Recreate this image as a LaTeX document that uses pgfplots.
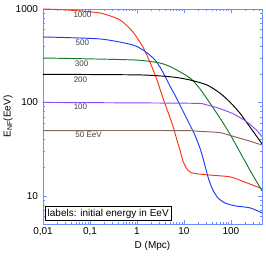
\documentclass[border=0pt]{standalone}
\usepackage{fontspec}
\setmainfont{Liberation Sans}
\usepackage{pgfplots}
\pgfplotsset{compat=1.18}
\definecolor{cred}{RGB}{250,55,20}
\definecolor{cblue}{RGB}{30,60,245}
\definecolor{cgreen}{RGB}{20,125,45}
\definecolor{cpurple}{RGB}{145,75,245}
\definecolor{cbrown}{RGB}{140,100,90}
\definecolor{axblue}{RGB}{110,140,255}
\begin{document}
\begin{tikzpicture}
\begin{axis}[
  scale only axis,
  width=219pt, height=215pt,
  xmode=log, ymode=log,
  xmin=0.01, xmax=460, ymin=5, ymax=1000,
  axis line style={axblue, line width=0.7pt},
  every tick/.style={axblue, line width=0.5pt},
  major tick length=4pt, minor tick length=2.2pt,
  tick align=inside,
  xtick={0.01,0.1,1,10,100},
  xticklabels={{0,01},{0,1},1,10,100},
  minor xtick={0.02,0.03,0.04,0.05,0.06,0.07,0.08,0.09,0.2,0.3,0.4,0.5,0.6,0.7,0.8,0.9,2,3,4,5,6,7,8,9,20,30,40,50,60,70,80,90,200,300,400},
  ytick={10,100,1000},
  yticklabels={10,100,1000},
  minor ytick={6,7,8,9,20,30,40,50,60,70,80,90,200,300,400,500,600,700,800,900},
  /pgf/number format/assume math mode=true,
  tick label style={font=\fontsize{10}{12}\selectfont, black},
  yticklabel style={xshift=-1.5pt},
  xlabel={D (Mpc)},
  ylabel={E$_{\mathrm{NF}}$(EeV)},
  label style={font=\fontsize{10}{12}\selectfont},
  xlabel style={at={(axis description cs:0.5,-0.102)}, anchor=center},
  ylabel style={at={(axis description cs:-0.160,0.5)}, anchor=center},
  every axis plot/.append style={line width=0.95pt, no markers, smooth, tension=0.4},
  clip=true,
]
% 1000 EeV
\addplot[cred] coordinates {
(0.01,1000) (0.0324,976) (0.163,906) (0.435,763) (0.822,568) (1.34,392)
(1.89,271) (2.67,174) (3.57,112) (4.57,79.1) (5.83,56.1) (7.10,39.7)
(8.22,31.1) (9.52,23.7) (11.6,19.4) (14.8,17.6) (30.8,16.8) (95.2,16.0)
(180,14.3) (414,12.2) (460,11.9)};
% 500 EeV
\addplot[cblue] coordinates {
(0.01,502) (0.163,478) (0.822,412) (1.55,347) (2.42,285) (3.08,240)
(3.94,192) (5.04,150) (6.44,120) (8.22,94.1) (10.5,73.5) (13.4,57.5)
(17.1,44.9) (21.9,32.6) (25.4,25.5) (29.4,19.4) (34.0,14.8) (41.4,11.6)
(52.9,9.52) (74.5,8.41) (122,7.82) (254,7.45) (460,6.58)};
% 300 EeV
\addplot[cgreen] coordinates {
(0.01,299) (0.822,285) (3.08,264) (5.83,234) (13.4,183) (21.9,140)
(35.7,98.8) (58.3,68.3) (95.2,46.0) (155,29.6) (254,18.9) (460,11.3)};
% 200 EeV
\addplot[black] coordinates {
(0.01,200) (1.16,197) (5.83,187) (13.4,174) (30.8,154) (58.3,126)
(95.2,101) (155,77.2) (254,54.7) (375,41.7) (460,36.0)};
% 100 EeV
\addplot[cpurple] coordinates {
(0.01,100) (13.4,98) (28,95) (50.4,88) (110,76) (219,62) (357,50) (460,43)};
% 50 EeV
\addplot[cbrown] coordinates {
(0.01,50) (8.22,50) (21.9,49) (58.3,47.5) (110,43.5) (254,38.5) (460,35)};
% curve labels
\begin{scope}[every node/.style={font=\fontsize{8}{9}\selectfont, text=black!75, inner sep=0pt}]
\node at (rel axis cs:0.180,0.972) {1000};
\node at (rel axis cs:0.180,0.842) {500};
\node at (rel axis cs:0.176,0.747) {300};
\node at (rel axis cs:0.171,0.672) {200};
\node at (rel axis cs:0.171,0.544) {100};
\node at (rel axis cs:0.208,0.416) {50 EeV};
\end{scope}
\node[draw=black, line width=0.5pt, fill=white, anchor=south west, inner xsep=2.5pt, inner ysep=2.5pt,
  font=\fontsize{10}{11}\selectfont] at (rel axis cs:0.009,0.014) {labels: initial energy in EeV};
\end{axis}
\pgfresetboundingbox
\path (-43pt,-32pt) rectangle (223pt,224pt);
\end{tikzpicture}
\end{document}
